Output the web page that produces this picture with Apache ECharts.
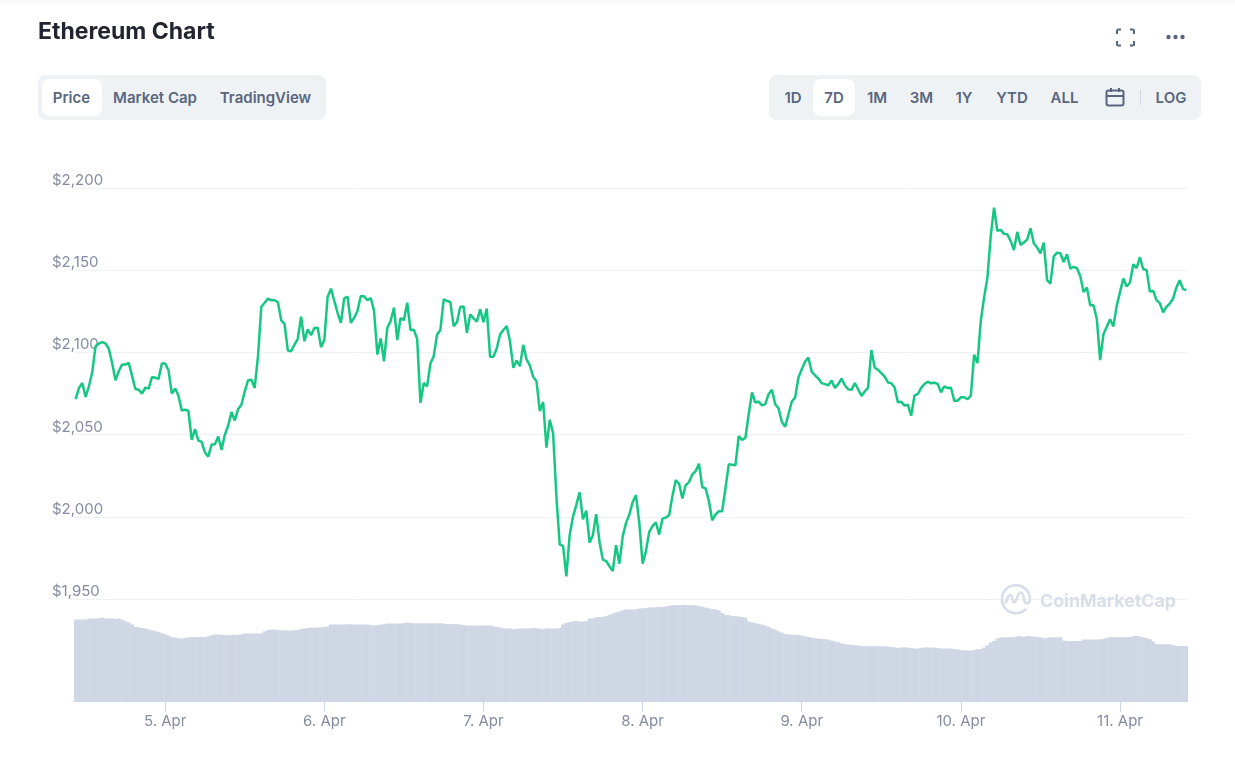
<!DOCTYPE html>
<html lang="en">

<head>
  <meta charset="UTF-8">
  <title>Ethereum Chart</title>
  <style>
    body { margin: 0; background: #fff; font-family: Inter, sans-serif; overflow: hidden; }
    #chart { position: absolute; left: 0; top: 0; width: 1235px; height: 760px; }
    .topfade { position: absolute; left: 0; top: 0; width: 1235px; height: 5px; background: #fafafb; }
    .group { position: absolute; top: 75px; height: 45px; background: #eff2f5; border-radius: 8px; }
    .pill { position: absolute; top: 79px; height: 37px; background: #fff; border-radius: 8px; }
    .btn { position: absolute; top: 87px; height: 21px; line-height: 21px; font-size: 15px; font-weight: 600; color: #58667e; transform: translateX(-50%); white-space: nowrap; }
    svg { position: absolute; }
    .wm { position: absolute; left: 1040px; top: 589px; font-size: 17.8px; font-weight: 700; color: #d8dee9; line-height: 24px; white-space: nowrap; }
  </style>
</head>

<body>
  <div id="chart"></div>
  <div class="topfade"></div>

  <div class="group" style="left:38px;width:288px"></div>
  <div class="pill" style="left:42px;width:60px"></div>
  <div class="btn" style="left:71.5px">Price</div>
  <div class="btn" style="left:155px">Market Cap</div>
  <div class="btn" style="left:265.5px">TradingView</div>

  <div class="group" style="left:769px;width:432px"></div>
  <div class="pill" style="left:813px;width:42px"></div>
  <div class="btn" style="left:793px">1D</div>
  <div class="btn" style="left:834px">7D</div>
  <div class="btn" style="left:877px">1M</div>
  <div class="btn" style="left:921.5px">3M</div>
  <div class="btn" style="left:964px">1Y</div>
  <div class="btn" style="left:1012px">YTD</div>
  <div class="btn" style="left:1064.5px">ALL</div>
  <div class="btn" style="left:1171px">LOG</div>

  <!-- calendar -->
  <svg style="left:1105px;top:87px" width="20" height="21" viewBox="0 0 20 21" fill="none" stroke="#58667e" stroke-width="2">
    <rect x="1.5" y="3.5" width="17" height="15" rx="2"></rect>
    <path d="M1.5 9h17M6 1v4M14 1v4"></path>
  </svg>
  <svg style="left:1140px;top:90px" width="1" height="15"><rect width="1" height="15" fill="#cfd6e4"></rect></svg>

  <!-- fullscreen + menu -->
  <svg style="left:1115px;top:28px" width="21" height="19" viewBox="0 0 21 19" fill="none" stroke="#58667e" stroke-width="2">
    <path d="M2 6V3a1.5 1.5 0 0 1 1.5-1.5H6M15 1.5h2.5A1.5 1.5 0 0 1 19 3v3M19 13v3a1.5 1.5 0 0 1-1.5 1.5H15M6 17.5H3.5A1.5 1.5 0 0 1 2 16v-3"></path>
  </svg>
  <svg style="left:1165px;top:33px" width="21" height="8" viewBox="0 0 21 8" fill="#58667e">
    <circle cx="3.5" cy="4" r="2.2"></circle><circle cx="10.5" cy="4" r="2.2"></circle><circle cx="17.5" cy="4" r="2.2"></circle>
  </svg>

  <!-- watermark -->
  <svg style="left:1000px;top:584px" width="32" height="32" viewBox="0 0 32 32" fill="none" stroke="#d8dee9" stroke-width="2.6" stroke-linecap="round" stroke-linejoin="round">
    <path d="M25.5 25.5A14 14 0 1 1 30 15.5c0 3-2.3 4.6-4.2 3.6-1.6-.9-1.6-3-2-5-.5-3-1.6-5.6-3.2-5.6-2.4 0-3 4-4.2 7.2-.8 2-1.6 3-2.6 2.6-1.4-.6-1.3-3.6-2.2-6-.6-1.6-2-1.8-3-.4-1.2 1.6-2 4.6-2.6 6.6"></path>
  </svg>
  <div class="wm">CoinMarketCap</div>

  <script src="https://cdn.jsdelivr.net/npm/echarts@6/dist/echarts.min.js"></script>
  <script>
    const title = 'Ethereum Chart';

    // half-hourly price, USD
    const prices = [
      2071.6, 2078.4, 2081.4, 2072.9, 2079.4, 2087.9, 2103.8, 2105.4, 2106.2, 2105.4, 2102.2, 2093.6,
      2083.0, 2088.5, 2092.6, 2092.6, 2093.6, 2085.9, 2077.7, 2077.3, 2074.9, 2078.6, 2078.0, 2084.9,
      2084.7, 2083.9, 2093.2, 2093.2, 2089.1, 2074.9, 2078.0, 2073.7, 2064.7, 2065.1, 2064.5, 2046.8,
      2053.3, 2046.4, 2045.6, 2039.1, 2036.6, 2044.0, 2044.2, 2048.8, 2040.7, 2049.9, 2055.4, 2063.7,
      2058.6, 2065.5, 2068.2, 2076.3, 2083.0, 2083.4, 2078.4, 2097.7, 2127.8, 2130.2, 2132.7, 2131.7,
      2131.7, 2130.5, 2119.5, 2117.4, 2101.1, 2100.7, 2104.8, 2108.3, 2121.7, 2106.8, 2114.0, 2110.5,
      2114.8, 2115.0, 2103.2, 2107.5, 2133.9, 2138.8, 2131.3, 2124.1, 2118.0, 2132.9, 2133.9, 2118.0,
      2121.1, 2125.2, 2134.3, 2134.1, 2131.7, 2133.1, 2125.2, 2098.7, 2108.5, 2094.6, 2115.0, 2119.1,
      2127.2, 2107.5, 2120.9, 2119.5, 2130.2, 2113.6, 2113.8, 2108.3, 2069.2, 2081.4, 2079.4, 2093.2,
      2097.7, 2110.7, 2113.6, 2132.3, 2131.3, 2130.7, 2116.0, 2118.4, 2127.6, 2128.0, 2111.9, 2123.1,
      2120.7, 2118.7, 2126.2, 2118.4, 2126.6, 2097.3, 2097.3, 2102.4, 2110.9, 2113.6, 2116.0, 2106.8,
      2090.6, 2095.0, 2091.6, 2104.6, 2095.7, 2092.0, 2085.1, 2082.4, 2064.3, 2069.8, 2042.1, 2059.0,
      2050.9, 2012.2, 1983.1, 1982.3, 1963.8, 1988.8, 2000.0, 2007.1, 2014.9, 1998.4, 2003.7, 1984.3,
      1988.8, 2001.6, 1984.7, 1974.0, 1973.1, 1969.9, 1967.0, 1982.7, 1971.5, 1988.1, 1996.3, 2001.4,
      2008.9, 2013.2, 1996.3, 1971.5, 1979.0, 1990.8, 1994.3, 1996.7, 1989.2, 1998.9, 1999.5, 2001.0,
      2012.6, 2022.3, 2020.1, 2011.1, 2019.3, 2021.1, 2025.8, 2027.8, 2032.3, 2018.0, 2017.2, 2009.5,
      1997.9, 2001.4, 2003.4, 2003.4, 2017.6, 2031.9, 2031.7, 2031.3, 2049.1, 2046.7, 2048.1, 2062.4,
      2075.6, 2069.5, 2070.1, 2067.8, 2068.5, 2074.6, 2077.2, 2068.5, 2066.0, 2057.7, 2054.8, 2062.4,
      2070.1, 2072.5, 2084.7, 2089.8, 2094.3, 2096.9, 2088.2, 2086.1, 2084.1, 2081.3, 2080.7, 2080.0,
      2082.9, 2078.4, 2080.7, 2084.1, 2080.0, 2077.6, 2077.2, 2081.3, 2077.6, 2073.5, 2076.2, 2078.6,
      2101.4, 2090.8, 2089.4, 2087.4, 2085.3, 2081.7, 2081.3, 2078.7, 2069.6, 2070.0, 2067.6, 2068.2,
      2061.5, 2073.7, 2074.7, 2078.3, 2080.8, 2082.2, 2081.2, 2081.6, 2080.8, 2075.7, 2079.4, 2078.3,
      2078.5, 2070.6, 2070.6, 2072.7, 2072.7, 2071.5, 2073.7, 2098.6, 2093.5, 2119.2, 2133.4, 2145.5,
      2170.8, 2188.0, 2173.9, 2174.5, 2172.1, 2171.8, 2167.8, 2162.3, 2173.3, 2165.4, 2166.8, 2168.8,
      2175.5, 2166.2, 2163.8, 2160.3, 2166.8, 2143.9, 2141.9, 2158.3, 2160.7, 2160.3, 2155.0, 2159.7,
      2151.0, 2152.0, 2151.2, 2146.5, 2136.8, 2139.5, 2128.7, 2128.7, 2120.2, 2095.3, 2111.1, 2115.6,
      2120.2, 2115.8, 2128.3, 2136.8, 2144.9, 2140.1, 2142.5, 2153.6, 2151.2, 2157.9, 2150.6, 2150.2,
      2137.0, 2137.4, 2131.8, 2130.0, 2124.3, 2127.7, 2129.7, 2132.8, 2139.5, 2143.9, 2138.5, 2138.0
    ];

    // 24h volume, USD billions (estimated, the axis has no labels)
    const volumes = [
      32.6, 32.6, 32.6, 32.6, 33.0, 33.0, 33.0, 33.2, 33.4, 33.0, 33.0, 33.0,
      32.8, 33.0, 32.6, 31.9, 31.4, 30.6, 29.6, 29.5, 29.2, 29.0, 28.7, 28.3,
      28.0, 27.6, 27.1, 26.7, 26.2, 25.5, 25.4, 25.1, 25.0, 25.2, 25.5, 25.5,
      25.6, 25.6, 25.6, 25.6, 25.9, 26.3, 26.6, 26.6, 26.4, 26.4, 26.4, 26.4,
      26.4, 26.5, 26.7, 27.0, 27.0, 27.0, 27.0, 27.0, 27.1, 27.9, 28.4, 28.6,
      28.6, 28.4, 28.2, 28.3, 28.2, 28.2, 28.3, 28.4, 28.8, 29.0, 29.2, 29.4,
      29.2, 29.4, 29.5, 29.6, 29.8, 30.6, 30.6, 30.6, 30.6, 30.6, 30.7, 30.7,
      30.6, 30.6, 30.6, 30.6, 30.6, 30.3, 30.2, 30.3, 30.6, 30.7, 31.0, 31.0,
      31.0, 31.0, 31.0, 31.1, 31.4, 31.2, 31.1, 31.1, 31.1, 31.1, 31.1, 31.1,
      31.1, 31.1, 31.1, 31.0, 30.8, 30.8, 30.7, 30.7, 30.6, 30.4, 30.2, 30.2,
      30.2, 30.2, 30.2, 30.2, 30.2, 30.2, 29.9, 29.6, 29.4, 29.1, 29.0, 29.0,
      28.7, 28.8, 29.0, 29.0, 29.0, 29.0, 29.2, 29.1, 29.0, 28.7, 29.0, 29.0,
      29.0, 29.0, 29.2, 30.6, 31.2, 31.6, 31.9, 32.0, 31.8, 31.8, 32.0, 33.0,
      33.1, 33.5, 33.6, 33.6, 34.0, 34.4, 35.0, 35.4, 35.8, 36.3, 36.6, 36.6,
      36.6, 36.7, 37.0, 37.1, 37.2, 37.4, 37.4, 37.5, 37.6, 37.6, 37.8, 38.0,
      38.3, 38.4, 38.4, 38.4, 38.4, 38.4, 38.3, 38.2, 38.0, 37.8, 37.4, 37.1,
      36.8, 36.7, 36.3, 35.2, 34.4, 34.3, 34.0, 33.9, 33.8, 33.6, 33.4, 31.8,
      31.4, 31.2, 30.8, 30.6, 30.2, 29.6, 29.0, 28.6, 27.9, 27.4, 26.8, 26.6,
      26.6, 26.4, 26.4, 26.2, 25.9, 25.6, 25.4, 25.1, 25.0, 24.8, 24.7, 24.6,
      24.2, 23.8, 23.5, 23.1, 22.7, 22.6, 22.4, 22.3, 22.2, 22.0, 21.9, 21.9,
      21.9, 21.9, 21.9, 21.9, 21.9, 21.8, 21.6, 21.5, 21.2, 21.4, 21.4, 21.4,
      21.2, 21.0, 21.0, 21.2, 21.4, 21.4, 21.4, 21.4, 21.2, 21.0, 21.0, 21.0,
      21.0, 20.8, 20.6, 20.4, 20.3, 20.2, 20.2, 20.4, 20.7, 20.8, 21.4, 22.3,
      23.4, 24.0, 25.0, 25.4, 25.5, 25.5, 25.5, 25.6, 25.9, 25.9, 25.6, 26.0,
      25.9, 25.8, 25.6, 25.5, 25.1, 25.2, 25.5, 25.5, 25.5, 25.5, 24.2, 24.0,
      24.0, 24.0, 24.0, 24.0, 24.6, 24.6, 24.6, 24.6, 24.6, 24.7, 24.8, 25.2,
      25.5, 25.5, 25.5, 25.5, 25.5, 25.5, 25.6, 25.9, 26.0, 25.8, 25.5, 25.2,
      24.7, 23.8, 22.8, 22.7, 22.7, 22.7, 22.7, 22.4, 22.0, 22.0, 21.9, 21.9
    ];

    // one slot per half hour, starting 4 Apr 10:30
    const slots = [];
    let day = 4, mins = 10 * 60 + 30;
    prices.forEach(() => {
      const hh = String(Math.floor(mins / 60)).padStart(2, '0');
      const mm = String(mins % 60).padStart(2, '0');
      slots.push(day + '. Apr ' + hh + ':' + mm);
      mins += 30;
      if (mins == 1440) { mins = 0; day++; }
    });

    const isMidnight = (i, v) => v.endsWith('00:00');
    const axisFont = { color: '#858ca2', fontSize: 15, fontFamily: 'Inter' };

    const option = {
      animation: false,
      title: {
        text: title, left: 33, top: 16,
        textStyle: { fontFamily: 'Inter', fontSize: 23, fontWeight: 700, color: '#222531' }
      },
      grid: [
        { left: 74, right: 47, top: 188, height: 411 },
        { left: 74, right: 47, top: 599, height: 102 }
      ],
      xAxis: [
        { type: 'category', data: slots, gridIndex: 0, show: false },
        {
          type: 'category', data: slots, gridIndex: 1,
          axisLine: { show: true, lineStyle: { color: '#ccd6eb' } },
          axisTick: { show: true, interval: isMidnight, alignWithLabel: true, length: 11, lineStyle: { color: '#ccd6eb' } },
          axisLabel: Object.assign({
            interval: isMidnight, margin: 13, formatter: v => v.split(' ').slice(0, 2).join(' ')
          }, axisFont)
        }
      ],
      yAxis: [
        {
          type: 'value', gridIndex: 0, min: 1950, max: 2200, interval: 50,
          axisLine: { show: false }, axisTick: { show: false },
          splitLine: { lineStyle: { color: '#eff2f5' } },
          axisLabel: Object.assign({
            margin: 22, align: 'left', verticalAlign: 'bottom',
            formatter: v => '$' + v.toLocaleString('en-US')
          }, axisFont)
        },
        { type: 'value', gridIndex: 1, min: 0, max: 40.8, show: false }
      ],
      series: [
        {
          name: 'Price', type: 'line', data: prices, xAxisIndex: 0, yAxisIndex: 0,
          symbol: 'none', smooth: false,
          lineStyle: { color: '#16c784', width: 2.5 }, z: 3
        },
        {
          name: 'Volume', type: 'bar', data: volumes, xAxisIndex: 1, yAxisIndex: 1,
          barWidth: 3.7, itemStyle: { color: '#cfd6e4' }
        }
      ]
    };

    const chart = echarts.init(document.getElementById('chart'));
    chart.setOption(option);
  </script>
</body>

</html>
